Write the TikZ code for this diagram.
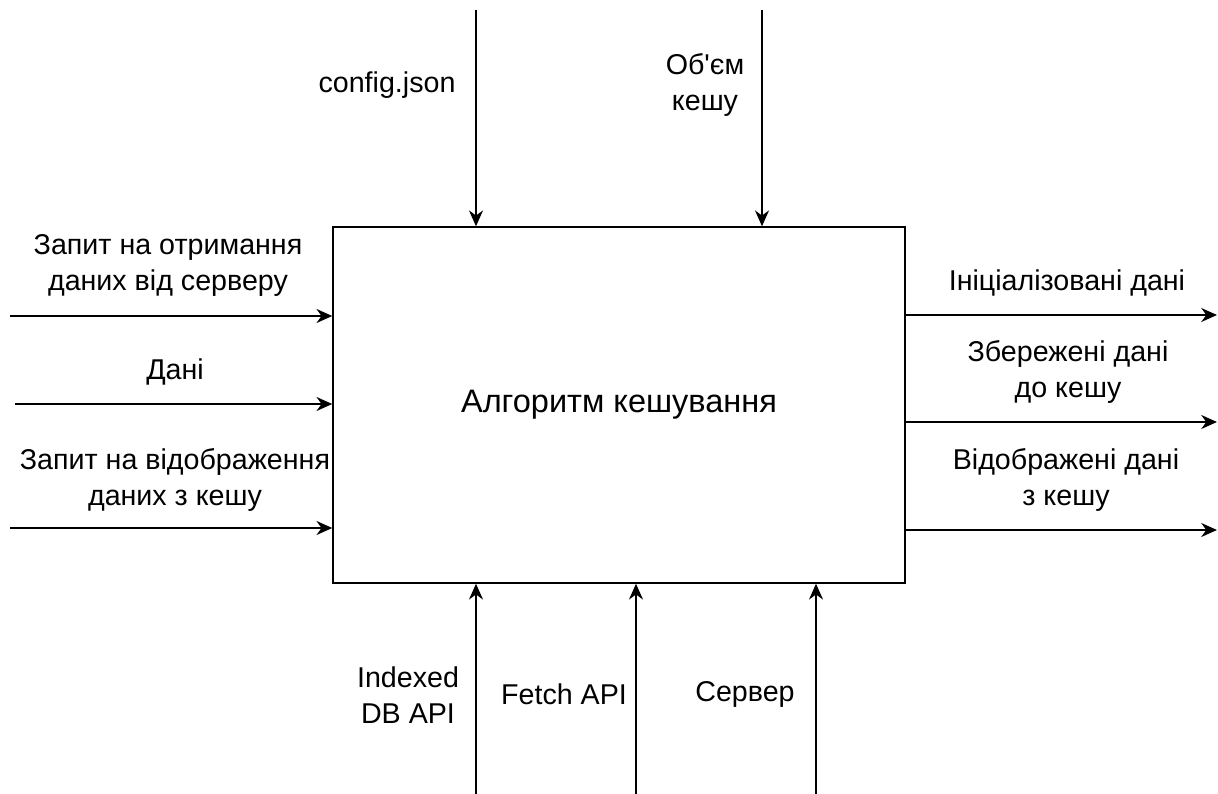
\documentclass[tikz,border=0pt]{standalone}
\usepackage{fontspec}
\setmainfont{Liberation Sans}[Ligatures=TeXOff]
\usetikzlibrary{arrows.meta}
\begin{document}
\begin{tikzpicture}[x=0.02cm, y=-0.02cm, line width=0.9pt,
    >={Stealth[length=9pt, width=8pt]},
    lbl/.style={align=center, inner sep=0pt, font=\fontsize{16.3}{20.5}\selectfont}]
    \useasboundingbox (0,0) rectangle (1218,794);
    % main block
    \node[draw, minimum width=11.44cm, minimum height=7.12cm, inner sep=0pt,
          font=\fontsize{18.5}{22}\selectfont] (box) at (619,405) {Алгоритм кешування};
    % controls
    \foreach \n/\x in {cfg/476, vol/762} {
        \coordinate (\n) at (\x,10);
        \draw[->] (\n) -- (\n |- box.north);
    }
    \node[lbl] (cfglbl) at (387,85) {config.json};
    \node[lbl] (vollbl) at (705,85) {Об'єм\\кешу};
    % inputs
    \foreach \n/\x/\y in {inA/10/316, inB/15/404, inC/10/528} {
        \coordinate (\n) at (\x,\y);
        \draw[->] (\n) -- (\n -| box.west);
    }
    \node[lbl] (inAlbl) at (168,265) {Запит на отримання\\даних від серверу};
    \node[lbl] (inBlbl) at (175,372) {Дані};
    \node[lbl] (inClbl) at (175,480) {Запит на відображення\\даних з кешу};
    % outputs
    \foreach \n/\y in {outA/315, outB/422, outC/530} {
        \coordinate (\n) at (1217,\y);
        \draw[->] (\n -| box.east) -- (\n);
    }
    \node[lbl] (outAlbl) at (1067,283) {Ініціалізовані дані};
    \node[lbl] (outBlbl) at (1068,372) {Збережені дані\\до кешу};
    \node[lbl] (outClbl) at (1066,480) {Відображені дані\\з кешу};
    % mechanisms
    \foreach \n/\x in {mchA/476, mchB/636, mchC/816} {
        \coordinate (\n) at (\x,794);
        \draw[->] (\n) -- (\n |- box.south);
    }
    \node[lbl] (mchAlbl) at (408,695) {Indexed\\DB API};
    \node[lbl] (mchBlbl) at (564,694) {Fetch API};
    \node[lbl] (mchClbl) at (745,694) {Сервер};
\end{tikzpicture}
\end{document}
